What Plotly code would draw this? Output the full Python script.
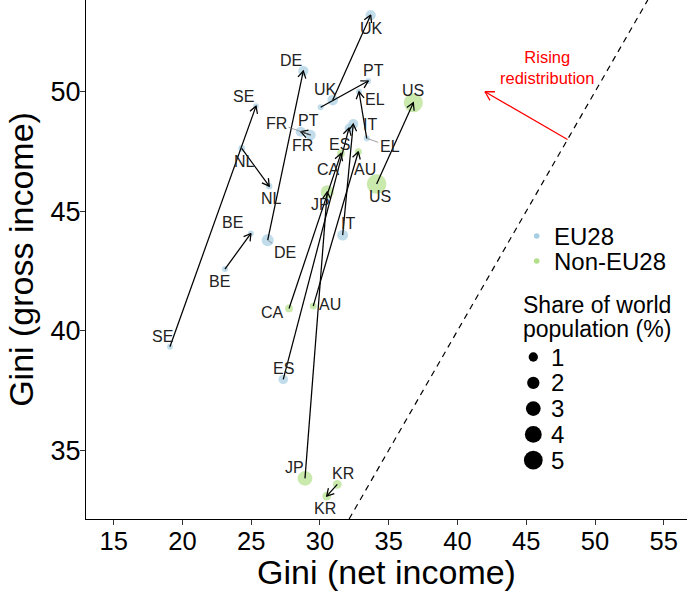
import math
import plotly.graph_objects as go

# ---------------- data ----------------
countries = ["UK", "DE", "PT", "EL", "SE", "NL", "BE", "FR", "IT", "ES",
             "US", "CA", "AU", "JP", "KR"]
group = ["EU28"] * 10 + ["Non-EU28"] * 5
net_start = [30.93, 26.20, 30.05, 33.40, 19.09, 24.31, 23.09, 29.32, 31.65, 27.33,
             34.12, 27.75, 29.51, 28.91, 31.26]
gross_start = [49.65, 43.79, 49.35, 48.05, 39.33, 47.63, 42.58, 48.19, 44.00, 37.96,
               46.14, 40.93, 41.03, 33.82, 33.57]
net_end = [33.69, 28.79, 33.51, 32.84, 25.35, 26.31, 24.98, 28.60, 32.42, 32.11,
           36.79, 31.53, 32.79, 30.53, 30.49]
gross_end = [53.21, 50.87, 50.45, 50.00, 49.40, 46.05, 44.07, 48.33, 48.65, 48.48,
             49.54, 47.42, 47.49, 45.81, 33.08]
pop_start = [1.4, 1.9, 0.25, 0.25, 0.2, 0.35, 0.25, 1.3, 1.5, 1.1,
             5.5, 0.6, 0.4, 3.0, 0.9]
pop_end = [1.3, 1.3, 0.2, 0.2, 0.17, 0.3, 0.2, 1.2, 1.2, 0.9,
           5.2, 0.6, 0.45, 2.3, 0.85]
group_names = ["EU28", "Non-EU28"]
size_legend_values = [1, 2, 3, 4, 5]
size_legend_title = ["Share of world", "population (%)"]
x_ticks = [15, 20, 25, 30, 35, 40, 45, 50, 55]
y_ticks = [35, 40, 45, 50]
annot_text = "Rising<br>redistribution"
annot_from = (48.0, 48.0)
annot_to = (42.0, 50.0)
annot_text_pos = (46.5, 51.0)

# ---------------- styles / layout ----------------
FONT = "Liberation Sans, Arial, sans-serif"
COLORS = {"EU28": "#A6CEE3", "Non-EU28": "#B2DF8A"}
W, H = 687, 591
M = dict(l=86, r=0, t=0, b=72)
XR = [12.986, 56.69]
YR = [32.12, 53.84]
PW = W - M["l"] - M["r"]
PH = H - M["t"] - M["b"]
KX = PW / (XR[1] - XR[0])
KY = PH / (YR[1] - YR[0])

# label offsets in pixels (dx right, dy down); flag = draw connector
lab_start = {"UK": (-7, -11, 0), "DE": (17, 12, 1), "PT": (-12, 13, 0), "EL": (23, 8, 1),
             "SE": (-7, -10, 0), "NL": (3, 13, 0), "BE": (-5, 12, 0), "FR": (-34, -12, 1),
             "IT": (5, -12, 0), "ES": (0, -11, 0), "US": (3, 13, 0), "CA": (-17, 4, 0),
             "AU": (17, -2, 0), "JP": (-10, -11, 0), "KR": (6, -11, 0)}
lab_end = {"UK": (1, 13), "DE": (-12, -10), "PT": (5, -11), "EL": (16, 8), "SE": (-13, -10),
           "NL": (2, 12), "BE": (-18, -11), "FR": (2, 14), "IT": (17, 0), "ES": (-9, 16),
           "US": (0, -12), "CA": (-13, 16), "AU": (7, 18), "JP": (-7, 13), "KR": (-2, 12)}


def msize(share):
    return math.sqrt(20.7 + 65.8 * share)


def arrow_path(x0, y0, x1, y1, length, ang_deg=30):
    dx, dy = (x1 - x0) * KX, (y1 - y0) * KY
    n = math.hypot(dx, dy)
    ux, uy = -dx / n, -dy / n
    xs, ys = [x0, x1, None], [y0, y1, None]
    a = math.radians(ang_deg)
    pts = []
    for s in (a, -a):
        wx = (ux * math.cos(s) - uy * math.sin(s)) * length
        wy = (ux * math.sin(s) + uy * math.cos(s)) * length
        pts.append((x1 + wx / KX, y1 + wy / KY))
    xs += [pts[0][0], x1, pts[1][0], None]
    ys += [pts[0][1], y1, pts[1][1], None]
    return xs, ys


fig = go.Figure()

# diagonal y = x
fig.add_trace(go.Scatter(x=[YR[0], YR[1]], y=[YR[0], YR[1]], mode="lines",
                         line=dict(color="black", width=1.2, dash="6px,5px"),
                         hoverinfo="skip", showlegend=False))

# points
for g in group_names:
    idx = [i for i, gg in enumerate(group) if gg == g]
    xs = [net_start[i] for i in idx] + [net_end[i] for i in idx]
    ys = [gross_start[i] for i in idx] + [gross_end[i] for i in idx]
    ss = [msize(pop_start[i]) for i in idx] + [msize(pop_end[i]) for i in idx]
    fig.add_trace(go.Scatter(x=xs, y=ys, mode="markers", name=g,
                             marker=dict(color=COLORS[g], size=ss, line=dict(width=0)),
                             showlegend=False))

# arrows
ax_, ay_ = [], []
for i in range(len(countries)):
    a, b = arrow_path(net_start[i], gross_start[i], net_end[i], gross_end[i], 8)
    ax_ += a
    ay_ += b
fig.add_trace(go.Scatter(x=ax_, y=ay_, mode="lines", line=dict(color="black", width=1.25),
                         hoverinfo="skip", showlegend=False))

# red annotation arrow
ra, rb = arrow_path(annot_from[0], annot_from[1], annot_to[0], annot_to[1], 10)
fig.add_trace(go.Scatter(x=ra, y=rb, mode="lines", line=dict(color="#FF0000", width=1.3),
                         hoverinfo="skip", showlegend=False))

annotations = []
lab_font = dict(family=FONT, size=16, color="#222222")
for i, c in enumerate(countries):
    dx, dy, conn = lab_start[c]
    if conn:
        annotations.append(dict(x=net_start[i], y=gross_start[i], text=c, showarrow=True,
                                ax=dx, ay=dy, arrowhead=0, arrowwidth=0.7, arrowcolor="#777777",
                                standoff=0, font=lab_font))
    else:
        annotations.append(dict(x=net_start[i], y=gross_start[i], text=c, showarrow=False,
                                xshift=dx, yshift=-dy, font=lab_font))
    dx, dy = lab_end[c]
    annotations.append(dict(x=net_end[i], y=gross_end[i], text=c, showarrow=False,
                            xshift=dx, yshift=-dy, font=lab_font))

annotations.append(dict(x=annot_text_pos[0], y=annot_text_pos[1], text=annot_text,
                        showarrow=False, font=dict(family=FONT, size=16.5, color="#FF0000"),
                        xanchor="center", yanchor="middle"))


# ---------- manual legends (ggplot style) ----------
def px2paper(px, py):
    return (px - M["l"]) / PW, (M["t"] + PH - py) / PH


shapes = []
LEG_FONT = dict(family=FONT, size=24, color="black")
grp_rows = [236, 261]
for g, yy in zip(group_names, grp_rows):
    kx, ky = px2paper(536.7, yy)
    shapes.append(dict(type="circle", xref="paper", yref="paper", xsizemode="pixel",
                       ysizemode="pixel", xanchor=kx, yanchor=ky, x0=-2.8, x1=2.8,
                       y0=-2.8, y1=2.8, fillcolor=COLORS[g], line=dict(width=0)))
    tx, ty = px2paper(552, yy)
    annotations.append(dict(x=tx, y=ty, xref="paper", yref="paper", text=g,
                            showarrow=False, xanchor="left", yanchor="middle", font=LEG_FONT))

for line_txt, yy in zip(size_legend_title, [305, 329]):
    t_x, t_y = px2paper(521, yy)
    annotations.append(dict(x=t_x, y=t_y, xref="paper", yref="paper", text=line_txt,
                            showarrow=False, xanchor="left", yanchor="middle",
                            font=dict(family=FONT, size=23, color="black")))
for k, v in enumerate(size_legend_values):
    yy = 357 + 25.8 * k
    r = msize(v) / 2
    kx, ky = px2paper(533.3, yy)
    shapes.append(dict(type="circle", xref="paper", yref="paper", xsizemode="pixel",
                       ysizemode="pixel", xanchor=kx, yanchor=ky, x0=-r, x1=r, y0=-r, y1=r,
                       fillcolor="black", line=dict(width=0)))
    tx, ty = px2paper(549, yy)
    annotations.append(dict(x=tx, y=ty, xref="paper", yref="paper", text=str(v),
                            showarrow=False, xanchor="left", yanchor="middle", font=LEG_FONT))

axis_common = dict(showgrid=False, zeroline=False, showline=True, linecolor="black",
                   linewidth=1, ticks="outside", ticklen=5, tickwidth=1, tickcolor="#333333",
                   automargin=False)

fig.update_layout(
    width=W, height=H, margin=M, plot_bgcolor="white", paper_bgcolor="white",
    showlegend=False,
    xaxis=dict(range=XR, tickvals=x_ticks, ticklabelstandoff=-6,
               tickfont=dict(family=FONT, size=25.5, color="black"),
               title=dict(text="Gini (net income)", standoff=0,
                          font=dict(family=FONT, size=34, color="black")), **axis_common),
    yaxis=dict(range=YR, tickvals=y_ticks, ticklabelstandoff=-6,
               tickfont=dict(family=FONT, size=27, color="black"),
               title=dict(text="Gini (gross income)", standoff=6,
                          font=dict(family=FONT, size=34, color="black")), **axis_common),
    annotations=annotations, shapes=shapes,
)

fig.write_html("out.html", config={"displayModeBar": False},
               post_script="document.body.style.margin='0';document.body.style.overflow='hidden';")
